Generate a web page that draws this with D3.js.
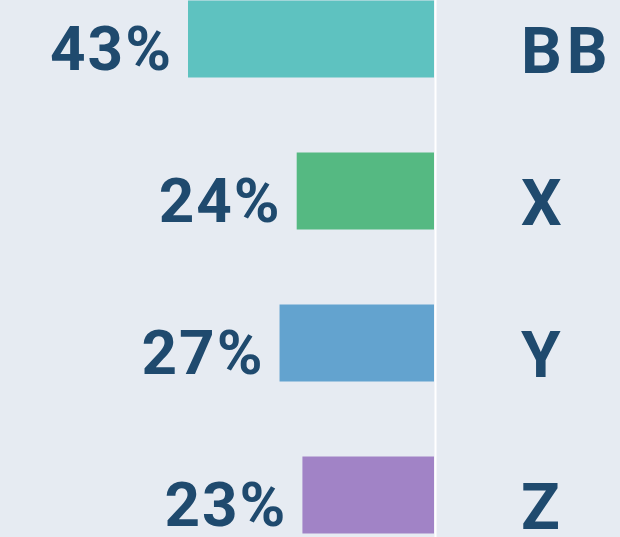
<!DOCTYPE html>
<html><head><meta charset="utf-8">
<script src="https://cdn.jsdelivr.net/npm/d3@7"></script>
<style>html,body{margin:0;padding:0;background:#e6ebf2;}svg{display:block;}</style>
</head><body><div id="chart"></div>
<script>
const categories = ["BB", "X", "Y", "Z"];
const values = [43, 24, 27, 23];
const colors = ["#5ec2c0", "#55b982", "#63a3cf", "#a183c6"];

const W = 620, H = 537;
const svg = d3.select("#chart").append("svg").attr("width", W).attr("height", H);
svg.append("rect").attr("width", W).attr("height", H).attr("fill", "#e6ebf2");

const x0 = 434;
const x = d3.scaleLinear().domain([0, 43]).range([0, 246]);
const y = d3.scaleBand().domain(categories).range([-37, 571]).paddingInner(75/152).paddingOuter(37.5/152);

const font = "Roboto, 'DejaVu Sans', sans-serif";
const textColor = "#1f4a6e";

svg.selectAll("rect.bar").data(categories).join("rect")
  .attr("class", "bar")
  .attr("x", (d, i) => x0 - x(values[i]))
  .attr("y", d => y(d))
  .attr("width", (d, i) => x(values[i]))
  .attr("height", y.bandwidth())
  .attr("fill", (d, i) => colors[i]);

svg.append("line").attr("x1", 435.5).attr("x2", 435.5).attr("y1", 0).attr("y2", H)
  .attr("stroke", "#ffffff").attr("stroke-width", 2);

svg.selectAll("text.val").data(categories).join("text")
  .attr("class", "val")
  .attr("x", (d, i) => x0 - x(values[i]) - 15)
  .attr("y", d => y(d) + y.bandwidth() / 2 + 31)
  .attr("text-anchor", "end")
  .attr("letter-spacing", 2)
  .attr("font-family", font).attr("font-weight", 700).attr("font-size", 62)
  .attr("fill", textColor)
  .text((d, i) => values[i] + "%");

svg.selectAll("text.cat").data(categories).join("text")
  .attr("class", "cat")
  .attr("x", 521)
  .attr("y", d => y(d) + y.bandwidth() / 2 + 34)
  .attr("letter-spacing", 5)
  .attr("font-family", font).attr("font-weight", 700).attr("font-size", 64)
  .attr("fill", textColor)
  .text(d => d);
</script></body></html>
